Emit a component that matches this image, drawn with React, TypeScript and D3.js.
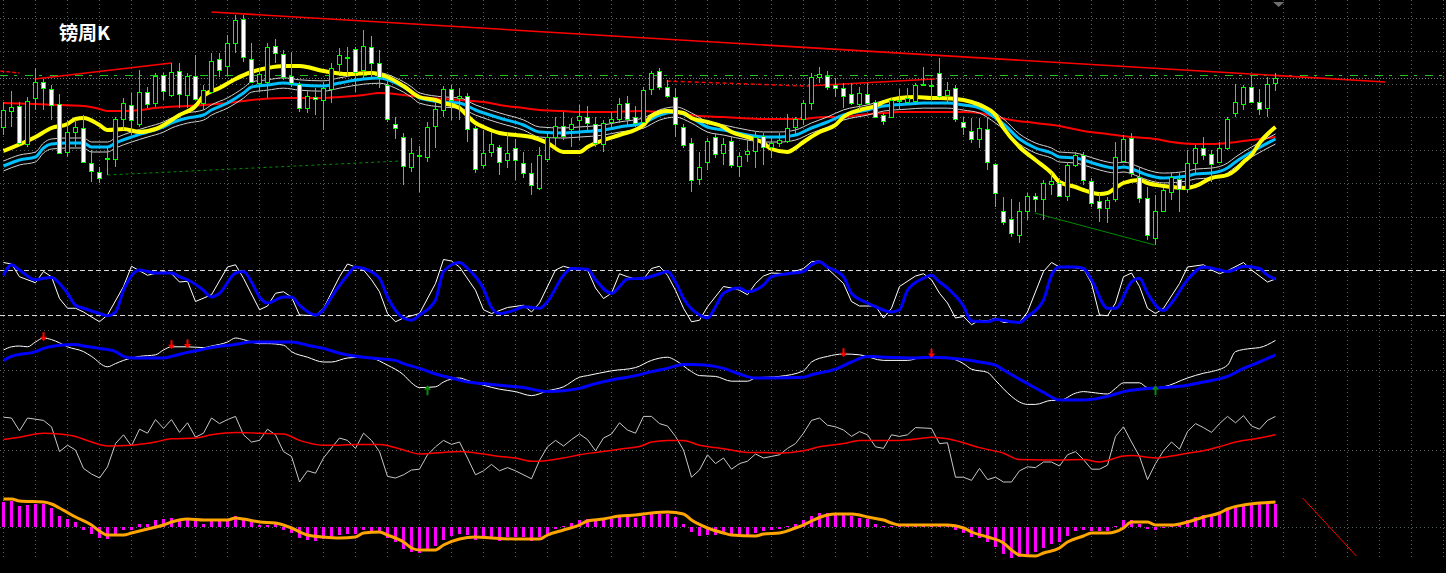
import React from 'react';
import * as d3 from 'd3';

const W = 1446;
const H = 573;

const title = '镑周K';

// weekly candles [open, high, low, close], prices in 1/1000 (1873 = 1.873)
const candles: number[][] = [
  [1873,1898,1865,1890],[1889,1909,1873,1893],[1894,1898,1855,1857],[1856,1903,1853,1899],[1902,1932,1890,1918],
  [1918,1921,1890,1912],[1911,1915,1880,1895],[1896,1906,1846,1847],[1848,1880,1843,1868],[1868,1880,1853,1873],
  [1872,1885,1837,1838],[1837,1850,1818,1829],[1828,1833,1817,1822],[1841,1853,1825,1842],[1841,1883,1833,1881],
  [1881,1902,1870,1897],[1895,1907,1865,1880],[1876,1930,1873,1908],[1908,1913,1892,1896],[1897,1927,1893,1924],
  [1925,1927,1900,1909],[1905,1937,1903,1928],[1929,1937,1892,1906],[1905,1927,1892,1924],[1924,1945,1900,1901],
  [1897,1915,1890,1910],[1908,1947,1907,1939],[1941,1947,1923,1930],[1934,1965,1925,1957],[1957,1985,1947,1980],
  [1981,1985,1938,1943],[1941,1957,1917,1918],[1917,1932,1908,1926],[1918,1957,1902,1953],[1954,1961,1937,1947],
  [1946,1950,1920,1923],[1924,1948,1913,1917],[1916,1918,1888,1892],[1892,1910,1887,1904],[1903,1912,1885,1901],
  [1900,1918,1870,1912],[1911,1937,1897,1932],[1936,1952,1927,1945],[1942,1953,1923,1943],[1951,1953,1908,1928],
  [1930,1970,1922,1954],[1953,1964,1923,1937],[1937,1950,1912,1923],[1915,1920,1878,1881],[1876,1883,1861,1872],
  [1863,1867,1815,1834],[1833,1862,1828,1847],[1844,1854,1808,1845],[1843,1878,1838,1873],[1874,1897,1852,1891],
  [1890,1914,1883,1911],[1911,1915,1880,1900],[1902,1912,1880,1904],[1904,1907,1858,1871],[1872,1874,1827,1831],
  [1835,1870,1832,1847],[1848,1868,1843,1856],[1853,1855,1825,1838],[1840,1868,1832,1847],[1852,1861,1820,1840],
  [1837,1848,1822,1827],[1827,1837,1805,1815],[1812,1853,1810,1845],[1841,1868,1838,1863],[1863,1883,1854,1874],
  [1874,1888,1860,1864],[1871,1882,1853,1876],[1880,1895,1860,1884],[1883,1894,1870,1877],[1876,1883,1853,1857],
  [1856,1880,1848,1877],[1878,1888,1873,1881],[1881,1902,1877,1896],[1897,1904,1875,1881],[1883,1894,1873,1877],
  [1878,1913,1877,1910],[1911,1929,1905,1927],[1929,1932,1910,1913],[1913,1920,1902,1904],[1903,1912,1863,1876],
  [1873,1876,1852,1855],[1857,1862,1808,1820],[1821,1848,1815,1833],[1838,1862,1830,1859],[1863,1867,1842,1846],
  [1847,1862,1835,1856],[1859,1863,1832,1835],[1834,1848,1823,1844],[1846,1860,1838,1849],[1849,1868,1832,1863],
  [1864,1867,1835,1853],[1853,1862,1842,1857],[1857,1867,1853,1860],[1859,1886,1857,1872],[1873,1883,1865,1881],
  [1881,1900,1875,1897],[1897,1927,1890,1923],[1923,1933,1917,1926],[1924,1929,1910,1913],[1915,1922,1903,1912],
  [1912,1917,1892,1904],[1906,1917,1895,1897],[1896,1913,1890,1907],[1906,1917,1895,1897],[1898,1900,1882,1883],
  [1885,1887,1875,1879],[1883,1902,1882,1900],[1899,1911,1890,1900],[1898,1912,1897,1902],[1899,1917,1895,1915],
  [1916,1933,1914,1916],[1915,1921,1900,1915],[1927,1942,1902,1904],[1905,1918,1897,1910],[1912,1915,1878,1881],
  [1878,1883,1865,1873],[1869,1882,1857,1861],[1861,1882,1852,1872],[1871,1882,1830,1838],[1836,1837,1793,1807],
  [1789,1803,1775,1778],[1781,1801,1763,1767],[1765,1798,1757,1789],[1789,1807,1780,1804],[1804,1807,1788,1801],
  [1801,1820,1780,1817],[1816,1827,1805,1819],[1817,1822,1803,1804],[1804,1837,1799,1835],[1835,1848,1833,1845],
  [1845,1848,1815,1820],[1819,1822,1793,1797],[1799,1807,1778,1792],[1792,1803,1777,1800],[1801,1858,1798,1843],
  [1839,1865,1837,1861],[1862,1867,1823,1827],[1823,1833,1797,1802],[1802,1813,1760,1765],[1762,1805,1755,1789],
  [1789,1812,1788,1810],[1808,1828,1800,1823],[1821,1827,1788,1811],[1811,1850,1807,1837],[1837,1855,1825,1852],
  [1852,1863,1840,1845],[1846,1850,1818,1836],[1838,1858,1837,1852],[1852,1883,1850,1881],[1887,1916,1883,1898],
  [1896,1915,1890,1913],[1913,1925,1897,1898],[1898,1911,1885,1891],[1892,1923,1883,1916],[1917,1927,1909,1922],
];

// moving averages: [bar index, price]
const maFast: number[][] = [
  [0,1849],[4,1863],[6,1872],[8,1876],[9,1881],[10,1882],[12,1875],[13,1870],[15,1871],[17,1868],[19,1871],
  [22,1885],[24,1894],[25,1904],[27,1912],[29,1921],[31,1928],[33,1932],[35,1934],[37,1934],[40,1929],[43,1926],
  [46,1927],[48,1923],[50,1914],[52,1903],[54,1900],[55,1897],[57,1892],[58,1884],[59,1877],[60,1873],[62,1867],
  [64,1865],[66,1863],[68,1857],[70,1848],[72,1848],[73,1853],[75,1860],[77,1865],[80,1875],[81,1884],[83,1889],
  [85,1887],[86,1882],[88,1878],[90,1873],[91,1868],[93,1863],[95,1857],[96,1851],[98,1848],[99,1852],[100,1858],
  [102,1868],[104,1875],[105,1883],[107,1890],[109,1894],[110,1898],[112,1902],[114,1903],[116,1902],[117,1902],
  [120,1900],[122,1895],[124,1885],[125,1872],[127,1853],[129,1840],[131,1827],[132,1818],[134,1813],[135,1810],
  [137,1806],[138,1807],[139,1812],[140,1817],[142,1820],[143,1817],[145,1814],[146,1813],[148,1812],[149,1814],
  [151,1822],[153,1825],[154,1830],[155,1838],[156,1845],[157,1857],[159,1873],
];
const maMid: number[][] = [
  [0,1834],[2,1840],[4,1843],[5,1852],[6,1856],[8,1857],[10,1857],[11,1853],[13,1853],[14,1857],[16,1863],
  [18,1868],[20,1873],[21,1877],[23,1882],[25,1885],[26,1890],[28,1897],[30,1907],[31,1913],[33,1915],[35,1917],
  [37,1915],[40,1914],[42,1917],[45,1921],[47,1922],[49,1917],[51,1908],[52,1902],[55,1898],[57,1897],[59,1890],
  [62,1882],[65,1875],[67,1868],[70,1867],[72,1868],[75,1870],[77,1873],[80,1877],[82,1885],[84,1888],[86,1882],
  [88,1873],[90,1870],[93,1865],[95,1863],[97,1863],[99,1865],[101,1872],[103,1878],[105,1885],[108,1890],
  [110,1894],[113,1896],[115,1897],[118,1897],[120,1895],[122,1892],[124,1882],[125,1876],[127,1861],[129,1852],
  [131,1847],[132,1843],[134,1842],[135,1840],[137,1835],[139,1832],[140,1833],[142,1828],[143,1825],[145,1822],
  [148,1824],[149,1826],[151,1827],[153,1832],[154,1838],[156,1848],[159,1861],
];
const maSlow: number[][] = [
  [0,1897],[4,1896],[7,1895],[10,1894],[12,1891],[13,1889],[15,1889],[17,1890],[19,1892],[23,1894],[25,1895],
  [28,1897],[29,1898],[31,1900],[35,1902],[37,1902],[40,1902],[42,1903],[45,1905],[47,1907],[50,1905],[52,1903],
  [55,1901],[57,1900],[60,1898],[62,1895],[65,1892],[67,1890],[70,1889],[72,1888],[75,1888],[80,1889],[82,1888],
  [85,1886],[87,1884],[90,1883],[92,1882],[95,1881],[97,1881],[100,1881],[101,1882],[103,1883],[105,1883],
  [107,1885],[110,1887],[112,1888],[115,1888],[117,1888],[120,1888],[122,1887],[124,1883],[126,1880],[129,1877],
  [132,1874],[135,1869],[138,1866],[141,1863],[144,1861],[146,1858],[149,1856],[151,1856],[153,1857],[155,1859],
  [157,1861],[159,1863],
];
const ENVELOPE_DEV = 0.0027;

// drawn objects: [bar index, price]
const trendRed: number[][] = [[26,1988],[172.7,1918]];
const trendRedLeft: number[][] = [[3.9,1921],[21,1937]];
const trendRedLeftDash: number[][] = [[-0.4,1929],[2,1927]];
const trendRedMidDash: number[][] = [[82.9,1919],[100.4,1914]];
const trendRedMid: number[][] = [[100.4,1914],[116.4,1921]];
const trendGreenDash: number[][] = [[13,1825],[49.6,1839]];
const trendGreen: number[][] = [[128.9,1787],[143.9,1755]];
const levelGreen = 1925;
const levelGray = 1922;
const mainGrid = [1982, 1949, 1916, 1883, 1850, 1817, 1783];

// stochastic %K and %D
const stochK: number[][] = [
  [0,90],[1,88],[2,71],[4,63],[5,78],[6,71],[7,42],[8,29],[9,29],[10,24],[12,11],[13,20],[15,58],[16,85],[18,73],
  [20,78],[21,75],[22,64],[23,65],[24,38],[26,47],[28,84],[29,87],[30,69],[32,27],[33,32],[34,49],[35,51],[36,44],
  [37,20],[39,19],[40,29],[42,71],[43,88],[45,80],[46,67],[47,51],[48,22],[49,11],[50,16],[52,22],[54,62],[55,94],
  [56,92],[57,84],[59,53],[60,27],[61,22],[63,30],[65,33],[66,24],[67,36],[69,80],[70,85],[71,82],[73,80],[74,56],
  [75,42],[76,49],[77,75],[78,71],[79,68],[80,68],[81,82],[82,85],[83,73],[84,53],[85,29],[86,11],[87,13],[88,31],
  [90,58],[91,56],[92,53],[93,47],[94,62],[95,72],[96,76],[98,75],[100,82],[101,91],[102,92],[103,82],[105,62],
  [106,38],[107,32],[109,32],[110,16],[111,29],[112,58],[114,72],[115,75],[116,67],[117,49],[118,36],[119,16],
  [120,18],[121,7],[122,13],[123,12],[124,16],[125,10],[127,10],[128,24],[130,78],[131,90],[132,84],[133,84],
  [135,82],[136,62],[137,20],[138,19],[139,36],[140,71],[141,76],[142,58],[143,29],[144,22],[145,29],[147,62],
  [148,84],[150,87],[151,80],[152,75],[153,79],[155,90],[156,80],[158,64],[159,68],
];
const stochD: number[][] = [
  [0,73],[1,87],[2,80],[4,67],[5,69],[6,70],[7,62],[8,49],[9,33],[10,29],[12,22],[13,19],[14,24],[15,53],[17,80],
  [19,76],[21,76],[22,71],[23,67],[25,53],[26,44],[27,49],[29,76],[30,78],[31,64],[32,44],[33,36],[35,44],[36,44],
  [37,33],[39,20],[40,27],[41,44],[43,73],[44,84],[45,82],[47,69],[48,44],[50,16],[51,13],[52,20],[54,40],[55,78],
  [57,90],[58,82],[60,55],[61,30],[62,22],[64,27],[65,31],[67,29],[68,38],[70,73],[71,82],[73,81],[74,67],[76,49],
  [77,58],[78,68],[80,69],[82,75],[83,78],[84,64],[85,42],[87,20],[88,16],[89,31],[90,49],[92,56],[93,51],[95,60],
  [96,71],[98,75],[100,78],[101,87],[102,91],[103,84],[105,71],[106,49],[108,36],[109,31],[111,24],[112,27],
  [113,53],[115,69],[116,73],[117,64],[118,56],[120,32],[121,12],[123,11],[124,14],[126,11],[127,10],[128,18],
  [130,40],[131,73],[132,84],[134,84],[135,82],[136,67],[138,29],[139,29],[141,64],[142,69],[143,49],[145,26],
  [146,36],[148,67],[150,84],[152,80],[153,78],[154,81],[155,85],[157,82],[158,73],[159,68],
];
const stochLevels = [80, 20];

// third window: fast and slow oscillator lines with signal arrows
const oscFast: number[][] = [
  [0,75],[1,79],[2,80],[3,79],[4,85],[5,90],[6,88],[7,84],[8,79],[10,73],[11,67],[13,54],[14,58],[15,62],[17,67],
  [19,69],[20,75],[21,79],[23,79],[25,78],[26,80],[28,85],[29,90],[30,88],[32,83],[33,83],[35,81],[36,73],[38,66],
  [40,60],[41,60],[43,65],[45,66],[46,65],[48,56],[50,44],[51,34],[52,28],[54,29],[55,35],[57,40],[58,37],[60,31],
  [62,26],[64,23],[66,18],[68,24],[70,29],[72,41],[73,43],[76,49],[79,53],[81,62],[83,66],[84,62],[86,48],[87,43],
  [89,42],[91,36],[93,36],[94,40],[97,42],[100,49],[101,60],[103,67],[105,70],[107,69],[110,62],[113,62],[115,66],
  [118,65],[120,58],[121,51],[123,47],[124,37],[126,17],[127,10],[128,7],[129,7],[131,12],[132,12],[134,21],
  [135,23],[136,22],[138,20],[139,27],[140,34],[142,34],[143,28],[144,28],[145,29],[148,40],[150,46],[151,48],
  [153,56],[154,73],[156,77],[157,78],[159,87],
];
const oscSlow: number[][] = [
  [0,62],[1,67],[4,73],[5,77],[7,81],[9,82],[10,80],[12,77],[14,73],[15,67],[16,65],[20,65],[21,67],[23,72],
  [25,76],[26,78],[29,82],[31,85],[36,85],[38,81],[40,77],[42,71],[45,66],[47,64],[49,62],[50,58],[52,52],[54,45],
  [56,40],[58,35],[60,33],[62,31],[65,28],[68,23],[70,24],[72,27],[74,33],[76,37.5],[79,43],[81,48],[83,52],
  [85,57],[86,57],[88,56],[90,52],[92,45],[94,40],[96,40],[100,41],[101,44],[104,51],[106,60],[108,67],[110,66],
  [114,65],[116,66],[120,63],[122,60],[124,56],[125,50],[128,33],[130,22],[132,12.5],[135,12.5],[138,17],[140,23],
  [143,27],[145,28],[148,31],[150,35],[153,42],[155,52],[157,60],[159,69],
];
const oscGrid = [100, 50];
const sellArrows: number[][] = [[5,86],[21,76],[23,77],[105,66],[116,65]];
const buyArrows: number[][] = [[53,31],[144,31]];

// RSI and its moving average
const rsi: number[][] = [
  [0,91],[1,90],[2,74],[3,90],[5,87],[6,79],[7,48],[8,56],[9,50],[10,27],[11,20],[12,15],[13,29],[14,58],[15,69],
  [16,55],[17,76],[18,71],[19,88],[20,77],[21,88],[22,72],[23,84],[24,66],[25,71],[26,90],[27,83],[28,88],[29,92],
  [30,69],[31,60],[32,62],[33,76],[34,69],[35,48],[36,42],[37,10],[38,24],[39,21],[40,40],[42,65],[43,62],[44,52],
  [45,71],[46,62],[47,48],[48,17],[49,15],[50,19],[51,25],[52,26],[53,44],[54,54],[55,62],[56,57],[57,60],[58,40],
  [59,19],[60,24],[61,32],[62,24],[63,28],[64,24],[66,14],[67,37],[68,54],[69,62],[70,55],[71,63],[72,70],[73,63],
  [74,49],[75,65],[76,70],[77,84],[78,75],[79,71],[80,92],[81,92],[82,83],[83,80],[84,67],[85,50],[86,16],[87,25],
  [88,44],[89,33],[90,40],[91,26],[92,33],[93,36],[94,45],[95,40],[96,42],[97,44],[98,52],[99,58],[100,71],[101,87],
  [102,90],[103,81],[104,79],[105,75],[106,67],[107,73],[108,69],[109,54],[110,52],[111,69],[112,67],[113,69],
  [114,78],[116,77],[117,58],[118,59],[119,16],[120,16],[121,12],[122,27],[123,13],[124,16],[125,10],[126,10],
  [127,24],[128,29],[129,28],[130,35],[131,35],[132,30],[133,44],[134,48],[135,38],[136,26],[137,26],[138,31],
  [139,67],[140,79],[141,60],[142,42],[143,13],[144,33],[145,49],[146,60],[147,51],[148,73],[149,83],[150,78],
  [151,72],[152,83],[153,92],[154,84],[155,93],[156,80],[157,76],[158,87],[159,92],
];
const rsiMa: number[][] = [
  [0,63],[2,66],[5,71],[7,70],[9,67],[11,60],[13,55],[16,56],[19,60],[21,64],[24,65],[26,69],[29,72],[32,71],
  [35,70],[37,62],[40,56],[42,56],[44,57],[47,57],[50,50],[52,45],[55,47],[57,48],[60,45],[62,42],[64,40],[66,36],
  [67,36],[70,40],[72,44],[74,47],[77,51],[80,56],[81,60],[83,62],[85,62],[87,56],[89,53],[91,50],[93,47],[95,47],
  [97,46],[100,49],[102,54],[105,58],[107,62],[110,62],[112,62],[115,65],[116,66],[118,64],[120,59],[122,53],
  [125,46],[127,38],[130,37.5],[132,37.5],[135,38],[137,35],[138,37],[140,42.5],[141,43],[143,41],[144,40],
  [146,42.5],[148,46],[150,49],[152,54],[154,60],[157,65],[159,69],
];
const rsiMid = 50;

// MACD histogram (one per bar) and signal line
const macdHist: number[] = [
  2.5,2.6,2.1,2.2,2.3,2.3,1.9,1.1,0.8,0.5,-0.3,-0.7,-1.1,-1.2,-0.8,-0.3,-0.3,0.3,0.3,0.7,
  0.8,0.9,0.7,0.7,0.6,0.3,0.6,0.6,0.8,1.1,0.7,0.5,0.2,0.2,0.3,-0.3,-0.6,-1.1,-1.3,-1.4,
  -1.2,-1.2,-0.8,-0.7,-0.7,-0.3,-0.4,-0.5,-1.1,-1.5,-2.2,-2.5,-2.6,-2.2,-1.9,-1.3,-0.9,-0.7,-0.8,-1.3,
  -1.0,-1.0,-1.4,-1.0,-1.0,-1.0,-1.4,-1.0,-0.7,-0.2,0.1,0.4,0.7,0.8,0.6,0.7,0.8,1.0,1.0,0.9,
  1.1,1.4,1.3,1.3,1.0,0.3,-0.5,-0.9,-0.8,-0.8,-0.6,-0.9,-0.8,-0.8,-0.6,-0.4,-0.3,-0.2,0.1,0.3,
  0.7,1.1,1.4,1.4,1.4,1.3,1.1,0.9,0.8,0.3,0.1,0.1,0.2,0.2,0.1,0.1,0.1,0.1,0.1,-0.3,
  -0.6,-1.0,-1.1,-1.5,-2.0,-2.7,-3.1,-3.0,-2.8,-2.5,-2.1,-1.7,-1.5,-0.9,-0.4,-0.3,-0.4,-0.4,-0.4,0.1,
  0.7,0.7,0.3,-0.2,-0.3,-0.1,0.2,0.3,0.7,1.0,1.2,1.2,1.3,1.7,2.1,2.3,2.3,2.3,2.3,2.3,
];
const macdSignal: number[][] = [
  [0,2.8],[1,2.8],[2,2.6],[5,2.5],[6,2.3],[7,1.9],[9,1.0],[11,0.2],[12,-0.4],[13,-0.8],[15,-0.8],[16,-0.6],
  [18,-0.2],[20,0.2],[21,0.5],[23,0.8],[25,0.7],[28,0.7],[29,0.9],[30,0.8],[32,0.5],[34,0.4],[36,-0.1],[38,-0.8],
  [40,-1.0],[42,-1.1],[44,-1.0],[45,-0.6],[47,-0.5],[48,-0.8],[50,-1.5],[51,-2.1],[52,-2.3],[54,-2.3],[55,-1.8],
  [57,-1.2],[59,-1.0],[61,-1.1],[64,-1.2],[67,-1.2],[68,-0.8],[70,-0.3],[72,0.2],[73,0.6],[75,0.8],[77,1.1],
  [79,1.2],[81,1.4],[83,1.5],[85,1.3],[86,0.7],[88,-0.1],[90,-0.6],[91,-0.8],[94,-0.9],[95,-0.7],[97,-0.6],
  [99,-0.1],[100,0.2],[101,0.6],[103,1.2],[104,1.3],[106,1.3],[107,1.2],[108,1.0],[110,0.7],[111,0.4],[112,0.2],
  [118,0.2],[120,-0.1],[121,-0.5],[123,-1.0],[125,-1.6],[126,-2.3],[127,-2.8],[129,-2.9],[130,-2.6],[132,-2.1],
  [133,-1.5],[135,-0.9],[136,-0.6],[138,-0.6],[140,-0.1],[141,0.5],[143,0.5],[144,0.2],[146,0.2],[148,0.5],
  [150,1.0],[152,1.4],[153,1.8],[155,2.2],[157,2.4],[159,2.5],
];
const macdLineDrawn: number[][] = [[162.4,2.9],[169.1,-2.9]];

export default function App() {
  const x = d3.scaleLinear().domain([0, 159]).range([3.5, 1275.5]);
  const yMain = d3.scaleLinear().domain([1750, 2000]).range([250, 0]);
  const yStoch = d3.scaleLinear().domain([0, 100]).range([330, 255]);
  const yOsc = d3.scaleLinear().domain([0, 100]).range([410, 330]);
  const yRsi = d3.scaleLinear().domain([0, 100]).range([490, 410]);
  const yMacd = d3.scaleLinear().domain([-3.5, 3.5]).range([562, 492]);

  const smooth = (ys: d3.ScaleLinear<number, number>, pts: number[][]) =>
    d3.line<number[]>().x(d => x(d[0])).y(d => ys(d[1])).curve(d3.curveMonotoneX)(pts) || '';
  const straight = (ys: d3.ScaleLinear<number, number>, pts: number[][]) =>
    d3.line<number[]>().x(d => x(d[0])).y(d => ys(d[1]))(pts) || '';
  const crisp = (v: number) => Math.round(v) + 0.5;

  const envUp = maMid.map(([i, v]) => [i, v * (1 + ENVELOPE_DEV)]);
  const envDn = maMid.map(([i, v]) => [i, v * (1 - ENVELOPE_DEV)]);

  const gridXs = d3.range(0, 46).map(k => x(4 * k));
  const gridColor = '#56605f';
  const gridDash = '1,3';

  const hLine = (yPix: number, key: string, stroke: string, dash: string, width = 1) => (
    <line key={key} x1={0} x2={W} y1={crisp(yPix)} y2={crisp(yPix)} stroke={stroke} strokeWidth={width} strokeDasharray={dash} />
  );

  return (
    <svg width={W} height={H} style={{ position: 'absolute', left: 0, top: 0, display: 'block' }}>
      <rect x={0} y={0} width={W} height={H} fill="#000" />
      {/* grid */}
      <g>
        {gridXs.map((gx, k) => (
          <line key={'vx' + k} x1={gx} x2={gx} y1={0} y2={560} stroke={gridColor} strokeDasharray={gridDash} />
        ))}
        {mainGrid.map((v, k) => hLine(yMain(v), 'mg' + k, gridColor, gridDash))}
        {oscGrid.map((v, k) => hLine(yOsc(v), 'og' + k, gridColor, gridDash))}
        {hLine(yRsi(rsiMid), 'rg', gridColor, gridDash)}
        {hLine(yMacd(0), 'zg', gridColor, gridDash)}
        {stochLevels.map((v, k) => hLine(yStoch(v), 'sl' + k, '#d8d8d8', '5,3'))}
      </g>

      {/* main window objects */}
      {hLine(yMain(levelGray), 'lg', '#7a7a7a', '1,2')}
      {hLine(yMain(levelGreen), 'lgr', '#22c422', '8,6,3,8')}
      <path d={straight(yMain, trendRed)} stroke="#ff0000" strokeWidth={1.6} fill="none" />
      <path d={straight(yMain, trendRedLeft)} stroke="#ff0000" strokeWidth={1.5} fill="none" />
      <path d={straight(yMain, trendRedLeftDash)} stroke="#ff0000" strokeWidth={1.5} fill="none" strokeDasharray="4,2" />
      <path d={straight(yMain, trendRedMidDash)} stroke="#ff0000" strokeWidth={1.5} fill="none" strokeDasharray="4,3" />
      <path d={straight(yMain, trendRedMid)} stroke="#ff0000" strokeWidth={1.5} fill="none" />
      <path d={straight(yMain, trendGreenDash)} stroke="#008a00" strokeWidth={1} fill="none" strokeDasharray="3,3" />
      <path d={straight(yMain, trendGreen)} stroke="#008a00" strokeWidth={1} fill="none" />
      <polygon
        points={[[158.7, 1998], [160.1, 1998], [159.4, 1993]].map(([i, v]) => `${x(i)},${yMain(v)}`).join(' ')}
        fill="#6e6e6e"
      />

      {/* moving averages */}
      <path d={smooth(yMain, maSlow)} stroke="#ff0000" strokeWidth={2} fill="none" />
      <path d={smooth(yMain, envUp)} stroke="#d0d0d0" strokeWidth={1} fill="none" />
      <path d={smooth(yMain, envDn)} stroke="#d0d0d0" strokeWidth={1} fill="none" />
      <path d={smooth(yMain, maMid)} stroke="#00bfff" strokeWidth={3} fill="none" />
      <path d={smooth(yMain, maFast)} stroke="#ffff00" strokeWidth={4} fill="none" />

      {/* candles */}
      <g>
        {candles.map(([o, h, l, c], i) => {
          const cx = x(i);
          const top = Math.round(yMain(Math.max(o, c)));
          const bot = Math.round(yMain(Math.min(o, c)));
          return (
            <g key={'c' + i}>
              <line x1={cx} x2={cx} y1={Math.round(yMain(h))} y2={Math.round(yMain(l))} stroke="#00ff00" strokeWidth={1} />
              <rect
                x={cx - 2}
                y={top + 0.5}
                width={4}
                height={Math.max(1, bot - top)}
                fill={c < o ? '#ffffff' : '#000000'}
                stroke="#00ff00"
                strokeWidth={1}
              />
            </g>
          );
        })}
      </g>

      <text x={59} y={40} fill="#ffffff" fontSize={19} fontWeight={700} fontFamily="'Noto Sans CJK SC', 'Noto Sans', sans-serif">
        {title}
      </text>

      {/* stochastic */}
      <path d={straight(yStoch, stochK)} stroke="#ffffff" strokeWidth={1} fill="none" />
      <path d={smooth(yStoch, stochD)} stroke="#0000ff" strokeWidth={3} fill="none" />

      {/* oscillator window */}
      <path d={smooth(yOsc, oscFast)} stroke="#ffffff" strokeWidth={1} fill="none" />
      <path d={smooth(yOsc, oscSlow)} stroke="#0000ff" strokeWidth={3} fill="none" />
      {sellArrows.map(([i, v], k) => {
        const cx = x(i);
        const ty = yOsc(v);
        return (
          <g key={'sa' + k} fill="#ff0000">
            <rect x={cx - 1} y={ty - 9} width={2} height={5} />
            <polygon points={`${cx - 3.5},${ty - 4.5} ${cx + 3.5},${ty - 4.5} ${cx},${ty}`} />
          </g>
        );
      })}
      {buyArrows.map(([i, v], k) => {
        const cx = x(i);
        const ty = yOsc(v);
        return (
          <g key={'ba' + k} fill="#0a8a0a">
            <rect x={cx - 1} y={ty + 4} width={2} height={6} />
            <polygon points={`${cx - 3.5},${ty + 4.5} ${cx + 3.5},${ty + 4.5} ${cx},${ty}`} />
          </g>
        );
      })}

      {/* RSI */}
      <path d={straight(yRsi, rsi)} stroke="#c8c8c8" strokeWidth={1} fill="none" />
      <path d={smooth(yRsi, rsiMa)} stroke="#ff0000" strokeWidth={1.5} fill="none" />

      {/* MACD */}
      <g>
        {macdHist.map((v, i) => {
          const y0 = yMacd(0);
          const y1 = yMacd(v);
          return (
            <rect key={'h' + i} x={x(i) - 1.5} y={Math.min(y0, y1)} width={3} height={Math.max(1, Math.abs(y1 - y0))} fill="#ff00ff" />
          );
        })}
      </g>
      <path d={smooth(yMacd, macdSignal)} stroke="#ffa500" strokeWidth={3} fill="none" />
      <path d={straight(yMacd, macdLineDrawn)} stroke="#ff0000" strokeWidth={1} fill="none" />
    </svg>
  );
}
